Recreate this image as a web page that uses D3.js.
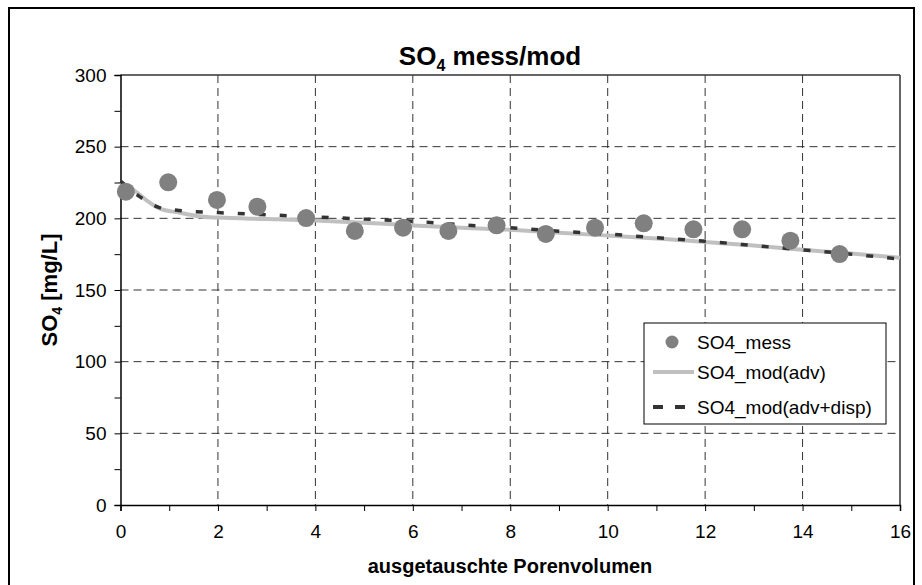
<!DOCTYPE html>
<html>
<head>
<meta charset="utf-8">
<script src="https://cdn.jsdelivr.net/npm/d3@7"></script>
<style>
  html, body { margin: 0; padding: 0; background: #fff; }
  svg { display: block; font-family: Arial, "Liberation Sans", sans-serif; }
</style>
</head>
<body>
<svg id="chart" width="922" height="585"></svg>
<script>
// ---- data ----
const messX = [0.11, 0.98, 1.98, 2.81, 3.81, 4.81, 5.80, 6.73, 7.72, 8.73, 9.74, 10.74, 11.76, 12.76, 13.75, 14.76];
const messY = [218.6, 225.1, 212.8, 208.1, 200.2, 191.2, 193.5, 191.2, 195.1, 189.1, 193.5, 196.5, 192.3, 192.3, 184.4, 175.1];

const advX = [0, 0.3, 0.6, 0.8, 1.2, 1.6, 2, 3, 4, 5, 6, 7, 8, 9, 10, 11, 12, 13, 14, 15, 16];
const advY = [225, 219, 211, 207, 204, 201.5, 200.5, 199.5, 198.5, 197, 195, 193.5, 192, 190, 188, 186, 183.5, 181, 178, 175.5, 172.5];

const dispX = [0, 0.4, 0.8, 1.2, 2, 3, 4, 5, 6, 7, 8, 9, 10, 11, 12, 13, 14, 15, 16];
const dispY = [226, 215, 207.5, 205.5, 204, 202.5, 201, 199.5, 198, 195.5, 193.5, 191, 189, 186.5, 184, 181, 178, 175, 171.5];

const xTicks = [0, 2, 4, 6, 8, 10, 12, 14, 16];
const yTicks = [0, 50, 100, 150, 200, 250, 300];
const seriesNames = ["SO4_mess", "SO4_mod(adv)", "SO4_mod(adv+disp)"];

// ---- layout ----
const svg = d3.select("#chart");
const plot = {left: 120.5, right: 900, top: 75, bottom: 505};

const x = d3.scaleLinear().domain([0, 16]).range([plot.left, plot.right]);
const y = d3.scaleLinear().domain([0, 300]).range([plot.bottom, plot.top]);

// outer frame
svg.append("rect").attr("x", 9).attr("y", 8).attr("width", 905).attr("height", 600)
  .attr("fill", "none").attr("stroke", "#000").attr("stroke-width", 2);

// gridlines
const grid = svg.append("g");
grid.selectAll("line.h").data(yTicks.filter(d => d > 0 && d < 300)).join("line")
  .attr("x1", plot.left).attr("x2", plot.right)
  .attr("y1", d => y(d)).attr("y2", d => y(d))
  .attr("stroke", "#333").attr("stroke-width", 1).attr("stroke-dasharray", "8,5");
grid.selectAll("line.v").data(xTicks.filter(d => d > 0 && d < 16)).join("line")
  .attr("y1", plot.top).attr("y2", plot.bottom)
  .attr("x1", d => x(d)).attr("x2", d => x(d))
  .attr("stroke", "#333").attr("stroke-width", 1).attr("stroke-dasharray", "8,5");

// plot border top/right
svg.append("line").attr("x1", plot.left).attr("x2", plot.right).attr("y1", plot.top).attr("y2", plot.top)
  .attr("stroke", "#333").attr("stroke-width", 1.5);
svg.append("line").attr("x1", plot.right).attr("x2", plot.right).attr("y1", plot.top).attr("y2", plot.bottom)
  .attr("stroke", "#333").attr("stroke-width", 1.5);

// axes
const xAxis = d3.axisBottom(x).tickValues(d3.range(0, 17, 1)).tickSize(6).tickPadding(14)
  .tickFormat(d => xTicks.includes(d) ? d : "");
const gx = svg.append("g").attr("transform", `translate(0,${plot.bottom})`).call(xAxis);
gx.attr("font-size", 19).attr("font-family", "Arial, 'Liberation Sans', sans-serif");
gx.select(".domain").attr("stroke", "#000").attr("stroke-width", 1.5);
gx.selectAll(".tick line").attr("stroke", "#000");
gx.selectAll("text").attr("fill", "#000");

const yAxis = d3.axisLeft(y).tickValues(d3.range(0, 301, 25)).tickSize(6).tickPadding(8)
  .tickFormat(d => yTicks.includes(d) ? d : "");
const gy = svg.append("g").attr("transform", `translate(${plot.left},0)`).call(yAxis);
gy.attr("font-size", 19).attr("font-family", "Arial, 'Liberation Sans', sans-serif");
gy.select(".domain").attr("stroke", "#000").attr("stroke-width", 1.5);
gy.selectAll(".tick line").attr("stroke", "#000");
gy.selectAll("text").attr("fill", "#000");

// lines
const advData = advX.map((d, i) => [d, advY[i]]);
const dispData = dispX.map((d, i) => [d, dispY[i]]);
const line = d3.line().x(d => x(d[0])).y(d => y(d[1])).curve(d3.curveMonotoneX);

svg.append("path").datum(advData).attr("d", line)
  .attr("fill", "none").attr("stroke", "#c0c0c0").attr("stroke-width", 4);
svg.append("path").datum(dispData).attr("d", line)
  .attr("fill", "none").attr("stroke", "#333").attr("stroke-width", 3.5)
  .attr("stroke-dasharray", "7,14");

// points
svg.append("g").selectAll("circle").data(messX.map((d, i) => [d, messY[i]])).join("circle")
  .attr("cx", d => x(d[0])).attr("cy", d => y(d[1])).attr("r", 9)
  .attr("fill", "#808080");

// title
const title = svg.append("text").attr("x", 490).attr("y", 65).attr("text-anchor", "middle")
  .attr("font-size", 26).attr("font-weight", "bold");
title.append("tspan").text("SO");
title.append("tspan").text("4").attr("font-size", 16).attr("dy", 6);
title.append("tspan").text(" mess/mod").attr("dy", -6);

// y axis title
const yt = svg.append("text").attr("transform", "translate(57,290) rotate(-90)")
  .attr("text-anchor", "middle").attr("font-size", 22).attr("font-weight", "bold");
yt.append("tspan").text("SO");
yt.append("tspan").text("4").attr("font-size", 14).attr("dy", 5);
yt.append("tspan").text(" [mg/L]").attr("dy", -5);

// x axis title
svg.append("text").attr("x", 510).attr("y", 573).attr("text-anchor", "middle")
  .attr("font-size", 20).attr("font-weight", "bold").text("ausgetauschte Porenvolumen");

// legend
const lg = svg.append("g");
lg.append("rect").attr("x", 644).attr("y", 323).attr("width", 242).attr("height", 101)
  .attr("fill", "#fff").attr("stroke", "#000").attr("stroke-width", 1);
const rows = [342, 372, 407];
lg.append("circle").attr("cx", 672).attr("cy", rows[0]).attr("r", 6.5).attr("fill", "#808080");
lg.append("line").attr("x1", 653).attr("x2", 694).attr("y1", rows[1]).attr("y2", rows[1])
  .attr("stroke", "#c0c0c0").attr("stroke-width", 4);
lg.append("line").attr("x1", 653).attr("x2", 694).attr("y1", rows[2]).attr("y2", rows[2])
  .attr("stroke", "#333").attr("stroke-width", 4).attr("stroke-dasharray", "10,12");
lg.selectAll("text.leg").data(seriesNames).join("text")
  .attr("x", 697).attr("y", (d, i) => rows[i]).attr("dy", "0.35em")
  .attr("font-size", 19).attr("fill", "#000").text(d => d);
</script>
</body>
</html>
